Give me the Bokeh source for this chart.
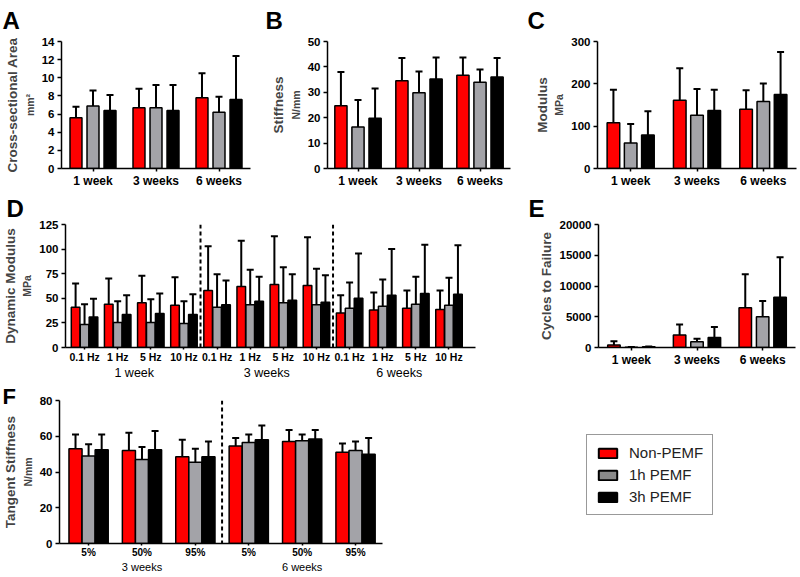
from bokeh.plotting import figure
from bokeh.layouts import column, row
from bokeh.models import (ColumnDataSource, FactorRange, Range1d, FixedTicker,
                          Title, Span, Legend, LegendItem, LinearAxis)
from bokeh.transform import dodge
from bokeh.embed import file_html
from bokeh.resources import INLINE

FONT = "Liberation Sans"
series_names = ["Non-PEMF", "1h PEMF", "3h PEMF"]
bar_colors = ["#ff0000", "#a3a3a8", "#000000"]
legend_colors = ["#ff0000", "#8a8a8a", "#000000"]

weeks = ["1 week", "3 weeks", "6 weeks"]
freqs = ["0.1 Hz", "1 Hz", "5 Hz", "10 Hz"]
strains = ["5%", "50%", "95%"]
f_weeks = ["3 weeks", "6 weeks"]

# A: cross-sectional area (mm^2), mean and SD
area_non = [5.6, 6.7, 7.8]
area_non_sd = [1.2, 2.1, 2.7]
area_1h = [6.9, 6.7, 6.2]
area_1h_sd = [1.7, 2.5, 1.7]
area_3h = [6.4, 6.4, 7.6]
area_3h_sd = [1.7, 2.8, 4.8]

# B: stiffness (N/mm)
stiff_non = [24.7, 34.5, 36.7]
stiff_non_sd = [13.3, 9.0, 7.0]
stiff_1h = [16.3, 29.8, 34.0]
stiff_1h_sd = [10.7, 8.4, 5.0]
stiff_3h = [19.8, 35.2, 36.0]
stiff_3h_sd = [11.7, 8.5, 7.5]

# C: modulus (MPa)
mod_non = [108, 161, 140]
mod_non_sd = [78, 76, 45]
mod_1h = [60, 126, 158]
mod_1h_sd = [45, 62, 43]
mod_3h = [79, 137, 175]
mod_3h_sd = [56, 49, 100]

# D: dynamic modulus (MPa), order: 1 wk (0.1,1,5,10 Hz), 3 wk, 6 wk
dyn_non = [41, 44, 45.5, 43, 58, 62, 64, 63, 35, 38, 40, 38.5]
dyn_non_sd = [24, 26, 27.5, 28.5, 45, 46.5, 49, 49, 18, 18, 18, 19.5]
dyn_1h = [23.5, 25.5, 25.5, 24.5, 41, 43.5, 45.5, 43.5, 40, 42, 44, 43]
dyn_1h_sd = [20.5, 21.5, 23.5, 22.5, 33.5, 35.5, 36, 36.5, 26, 27, 28, 28]
dyn_3h = [31, 33.5, 34.5, 33.5, 43.5, 47, 48, 46, 50, 53, 55, 54]
dyn_3h_sd = [18.5, 19.5, 20.5, 20.5, 24.5, 25, 26.5, 27.5, 45.5, 47, 49.5, 50]

# E: cycles to failure
cyc_non = [400, 2050, 6450]
cyc_non_sd = [600, 1700, 5450]
cyc_1h = [50, 920, 5000]
cyc_1h_sd = [30, 510, 2560]
cyc_3h = [120, 1640, 8180]
cyc_3h_sd = [60, 1690, 6500]

# F: tangent stiffness (N/mm), order: 3 wk (5,50,95%), 6 wk
tan_non = [53, 52, 48.5, 54.5, 57, 51]
tan_non_sd = [8, 10, 9.5, 4.5, 6.5, 5]
tan_1h = [49, 47, 45.5, 56.5, 57.5, 52]
tan_1h_sd = [6.5, 7, 7.5, 4.5, 3.5, 5]
tan_3h = [52.5, 52.5, 48.5, 58, 58.5, 50]
tan_3h_sd = [8.5, 10.5, 8.5, 8, 5, 9]


def style_axes(p, xsize, ysize):
    for ax in (p.xaxis, p.yaxis):
        ax.axis_line_width = 1.5
        ax.axis_line_color = "black"
        ax.major_tick_line_width = 1.5
        ax.major_tick_line_color = "black"
        ax.major_tick_out = 4
        ax.major_tick_in = 0
        ax.minor_tick_line_color = None
        ax.major_label_text_font = FONT
        ax.major_label_text_font_style = "bold"
        ax.major_label_text_color = "black"
    p.xaxis.major_label_text_font_size = xsize
    p.yaxis.major_label_text_font_size = ysize
    p.xaxis.major_tick_out = 3
    p.xaxis.major_label_standoff = 2
    p.yaxis.major_label_standoff = 3


def make_panel(x_range, xs, groups, ymax, yticks, width, height,
               borders, bar_w, off, letter, letter_off, letter_standoff,
               letter_valign, main_label, unit_label, main_offset=0,
               xsize="12px", ysize="11.5px", letter_size="24px"):
    l, r, t, b = borders
    p = figure(x_range=x_range, y_range=Range1d(0, ymax), width=width,
               height=height, output_backend="svg", toolbar_location=None,
               min_border_left=l, min_border_right=r, min_border_top=t,
               min_border_bottom=b)
    p.outline_line_color = None
    p.grid.visible = False
    offsets = [-off, 0.0, off]
    is_cat = isinstance(x_range, FactorRange)
    for i, (means, sds) in enumerate(groups):
        src = ColumnDataSource(dict(x=xs, top=means,
                                    up=[m + s for m, s in zip(means, sds)]))
        xd = dodge("x", offsets[i], range=p.x_range if is_cat else None)
        p.segment(x0=xd, y0="top", x1=xd, y1="up", source=src,
                  line_color="black", line_width=2)
        p.scatter(x=xd, y="up", marker="dash", size=7, line_width=2,
                  line_color="black", source=src)
        p.vbar(x=xd, top="top", width=bar_w, source=src,
               fill_color=bar_colors[i], line_color="black", line_width=1.5)
    style_axes(p, xsize, ysize)
    p.yaxis.ticker = FixedTicker(ticks=yticks)
    p.yaxis.axis_label = unit_label
    p.yaxis.axis_label_text_font = FONT
    p.yaxis.axis_label_text_font_style = "bold"
    p.yaxis.axis_label_standoff = 3
    if main_label is not None:
        p.yaxis.axis_label_text_font_size = "10.5px"
        p.add_layout(Title(text=main_label, align="center", text_font=FONT,
                           text_font_size="13.5px", text_font_style="bold",
                           standoff=1, offset=main_offset), "left")
    else:
        p.yaxis.axis_label_text_font_size = "13.5px"
    p.add_layout(Title(text=letter, align="left", offset=letter_off,
                       standoff=letter_standoff, vertical_align=letter_valign,
                       text_font=FONT, text_font_size=letter_size,
                       text_font_style="bold", text_color="black"), "above")
    return p


def two_level_axis(p, positions, inner_labels, group_positions, group_labels,
                   group_size):
    p.xaxis.ticker = FixedTicker(ticks=positions)
    p.xaxis.major_label_overrides = dict(zip(positions, inner_labels))
    p.xaxis.major_tick_out = 2
    p.xaxis.major_label_standoff = 1
    gax = LinearAxis(ticker=FixedTicker(ticks=group_positions),
                     major_label_overrides=dict(zip(group_positions, group_labels)),
                     axis_line_color=None, major_tick_line_color=None,
                     minor_tick_line_color=None, major_tick_out=0,
                     major_tick_in=0, major_label_standoff=0,
                     major_label_text_font=FONT,
                     major_label_text_font_size=group_size,
                     major_label_text_font_style="normal",
                     major_label_text_color="black")
    p.add_layout(gax, "below")


# Row 1 (y 0-190)
pA = make_panel(FactorRange(*weeks), weeks,
                [(area_non, area_non_sd), (area_1h, area_1h_sd), (area_3h, area_3h_sd)],
                14, list(range(0, 15, 2)), 262, 190, (61, 12, 41, 21),
                0.19, 0.27, "A", -59, 11, "top", "Cross-sectional Area", "mm²",
                main_offset=17)
pB = make_panel(FactorRange(*weeks), weeks,
                [(stiff_non, stiff_non_sd), (stiff_1h, stiff_1h_sd), (stiff_3h, stiff_3h_sd)],
                50, list(range(0, 51, 10)), 260, 190, (65, 12, 41, 21),
                0.2, 0.28, "B", -62, 11, "top", "Stiffness", "N/mm")
pC = make_panel(FactorRange(*weeks), weeks,
                [(mod_non, mod_non_sd), (mod_1h, mod_1h_sd), (mod_3h, mod_3h_sd)],
                300, [0, 100, 200, 300], 276, 190, (75, 2, 41, 21),
                0.19, 0.26, "C", -70, 11, "top", "Modulus", "MPa")

# Row 2 (y 190-382)
n_d = len(weeks) * len(freqs)
d_pos = [2 * i for i in range(n_d)]
d_inner = freqs * len(weeks)
d_group_pos = [2 * len(freqs) * k + len(freqs) - 1 for k in range(len(weeks))]
pD = make_panel(Range1d(-1.15, 2 * n_d - 0.4), d_pos,
                [(dyn_non, dyn_non_sd), (dyn_1h, dyn_1h_sd), (dyn_3h, dyn_3h_sd)],
                125, [0, 25, 50, 75, 100, 125], 480, 192, (61, 5, 34, 30),
                0.52, 0.54, "D", -59, 4, "middle", "Dynamic Modulus", "MPa",
                xsize="10.5px")
two_level_axis(pD, d_pos, d_inner, d_group_pos, weeks, "12.5px")
for k in range(1, len(weeks)):
    pD.add_layout(Span(location=2 * len(freqs) * k - 1, dimension="height",
                       line_color="black", line_width=2, line_dash="4 3"))

pE = make_panel(FactorRange(*weeks), weeks,
                [(cyc_non, cyc_non_sd), (cyc_1h, cyc_1h_sd), (cyc_3h, cyc_3h_sd)],
                20000, [0, 5000, 10000, 15000, 20000], 318, 192, (118, 3, 34, 30),
                0.19, 0.265, "E", -70, 4, "middle", None, "Cycles to Failure")

# Row 3 (y 382-575)
n_f = len(f_weeks) * len(strains)
f_pos = [2 * i for i in range(n_f)]
f_inner = strains * len(f_weeks)
f_group_pos = [2 * len(strains) * k + len(strains) - 1 for k in range(len(f_weeks))]
pF = make_panel(Range1d(-1.09, 2 * n_f - 0.99), f_pos,
                [(tan_non, tan_non_sd), (tan_1h, tan_1h_sd), (tan_3h, tan_3h_sd)],
                80, [0, 20, 40, 60, 80], 560, 193, (59, 178, 18, 30),
                0.49, 0.49, "F", -57, -18, "middle", "Tangent Stiffness", "N/mm",
                xsize="10px", letter_size="22px")
two_level_axis(pF, f_pos, f_inner, f_group_pos, f_weeks, "11px")
pF.add_layout(Span(location=2 * len(strains) - 1, dimension="height",
                   line_color="black", line_width=2, line_dash="4 3"))

# Legend panel (its frame is aligned with panel F's frame); the swatch
# renderers sit hidden under the legend box.
pL = figure(width=238, height=193, x_range=Range1d(0, 1), y_range=Range1d(0, 1),
            output_backend="svg", toolbar_location=None, min_border=0,
            x_axis_type=None, y_axis_type=None)
pL.outline_line_color = None
items = []
for name, c in zip(series_names, legend_colors):
    r = pL.vbar(x=[0.4], top=[0.6], bottom=[0.4], width=0.1, fill_color=c,
                line_color="black", line_width=2)
    items.append(LegendItem(label=name, renderers=[r]))
leg = Legend(items=items, location=(26, 28), label_text_font=FONT,
             label_text_font_size="15px", label_text_color="#222222",
             glyph_width=23, glyph_height=12, label_standoff=10,
             label_width=0, spacing=5, padding=9, margin=0,
             border_line_color="#333333", border_line_width=1.5,
             background_fill_color="white", background_fill_alpha=1.0)
pL.add_layout(leg)

layout = column(row(pA, pB, pC), row(pD, pE), row(pF, pL))

open("out.html", "w").write(file_html(layout, INLINE))
